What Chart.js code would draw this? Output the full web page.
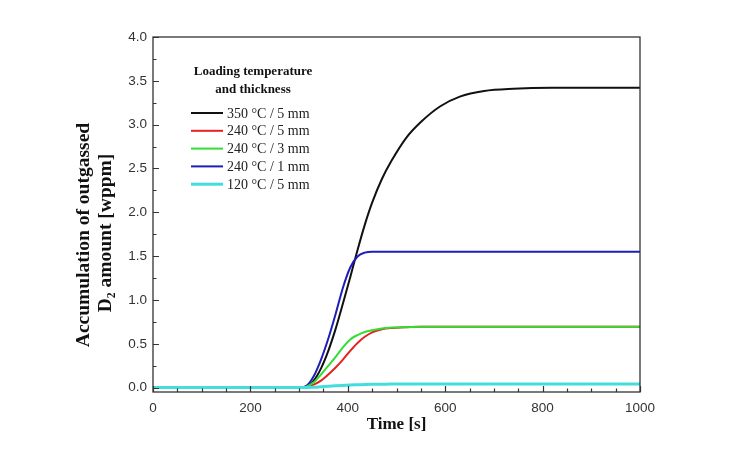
<!DOCTYPE html>
<html>
<head>
<meta charset="utf-8">
<script src="https://cdn.jsdelivr.net/npm/chart.js@4/dist/chart.umd.min.js"></script>
<style>
  body { margin: 0; background: #fff; }
  canvas { display: block; }
</style>
</head>
<body>
<canvas id="outgasChart" width="730" height="451"></canvas>
<script>
// time points [s] shared by every curve
const times = [0, 300, 315, 330, 345, 360, 375, 390, 405, 420, 435, 450, 470, 490, 520, 550, 590, 630, 680, 740, 820, 1000];

// accumulated D2 [wppm]
const t350mm5 = [0, 0, 0.01, 0.08, 0.22, 0.42, 0.67, 0.96, 1.26, 1.57, 1.86, 2.11, 2.38, 2.59, 2.85, 3.03, 3.21, 3.32, 3.385, 3.41, 3.42, 3.42];
const t240mm5 = [0, 0, 0.01, 0.035, 0.08, 0.15, 0.23, 0.32, 0.42, 0.51, 0.58, 0.63, 0.665, 0.68, 0.69, 0.695, 0.695, 0.695, 0.695, 0.695, 0.695, 0.695];
const t240mm3 = [0, 0, 0.01, 0.06, 0.15, 0.25, 0.35, 0.46, 0.55, 0.60, 0.635, 0.655, 0.675, 0.685, 0.69, 0.695, 0.695, 0.695, 0.695, 0.695, 0.695, 0.695];
const t240mm1 = [0, 0, 0.02, 0.13, 0.32, 0.56, 0.84, 1.14, 1.37, 1.495, 1.54, 1.55, 1.55, 1.55, 1.55, 1.55, 1.55, 1.55, 1.55, 1.55, 1.55, 1.55];
const t120mm5 = [0, 0, 0.002, 0.005, 0.01, 0.015, 0.02, 0.025, 0.03, 0.033, 0.036, 0.038, 0.039, 0.04, 0.04, 0.04, 0.04, 0.04, 0.04, 0.04, 0.04, 0.04];

const seriesLabels = ['350 \u00B0C / 5 mm', '240 \u00B0C / 5 mm', '240 \u00B0C / 3 mm', '240 \u00B0C / 1 mm', '120 \u00B0C / 5 mm'];
const seriesColors = ['#111111', '#e52222', '#33dd33', '#1e1eb8', '#44dddd'];
const seriesOrder = [4, 3, 1, 2, 0];

const xTicks = [0, 200, 400, 600, 800, 1000];
const yTicks = [0, 0.5, 1.0, 1.5, 2.0, 2.5, 3.0, 3.5, 4.0];

const allSeries = [t350mm5, t240mm5, t240mm3, t240mm1, t120mm5];

const serif = '"Liberation Serif", "Times New Roman", serif';
const sans = '"Liberation Sans", Arial, sans-serif';

// frame, inward ticks, axis titles and the inset legend
const decorPlugin = {
    id: 'decor',
    afterDatasetsDraw(chart) {
        const ctx = chart.ctx;
        const area = chart.chartArea;
        const xs = chart.scales.x;
        const ys = chart.scales.y;
        ctx.save();
        ctx.strokeStyle = '#333';
        ctx.lineWidth = 1.3;
        ctx.strokeRect(area.left, area.top, area.right - area.left, area.bottom - area.top);

        ctx.lineWidth = 1.2;
        ctx.beginPath();
        for (let v = 0; v <= 1000; v += 50) {
            const px = Math.round(xs.getPixelForValue(v)) + 0.5;
            const len = v % 200 === 0 ? 6 : 3.5;
            ctx.moveTo(px, area.bottom);
            ctx.lineTo(px, area.bottom - len);
        }
        for (let v = 0; v <= 4.0001; v += 0.25) {
            const py = Math.round(ys.getPixelForValue(v)) + 0.5;
            const len = Math.abs(v * 2 - Math.round(v * 2)) < 1e-6 ? 6 : 3.5;
            ctx.moveTo(area.left, py);
            ctx.lineTo(area.left + len, py);
        }
        ctx.stroke();

        // axis titles
        ctx.fillStyle = '#111';
        ctx.textAlign = 'center';
        ctx.textBaseline = 'middle';
        ctx.font = 'bold 17px ' + serif;
        ctx.fillText('Time [s]', (area.left + area.right) / 2, 425);

        ctx.font = 'bold 19.5px ' + serif;
        ctx.save();
        ctx.translate(84, 235);
        ctx.rotate(-Math.PI / 2);
        ctx.fillText('Accumulation of outgassed', 0, 0);
        ctx.restore();
        ctx.save();
        ctx.translate(106, 233);
        ctx.rotate(-Math.PI / 2);
        ctx.fillText('D\u2082 amount [wppm]', 0, 0);
        ctx.restore();

        // legend
        const lx = area.left + 100;
        ctx.font = 'bold 13px ' + serif;
        ctx.fillText('Loading temperature', lx, area.top + 35);
        ctx.fillText('and thickness', lx, area.top + 53);
        ctx.textAlign = 'left';
        ctx.font = '14px ' + serif;
        seriesLabels.forEach((lab, i) => {
            const y = area.top + 76 + i * 17.8;
            ctx.strokeStyle = seriesColors[i];
            ctx.lineWidth = i === 4 ? 3 : 2;
            ctx.beginPath();
            ctx.moveTo(area.left + 38, y);
            ctx.lineTo(area.left + 70, y);
            ctx.stroke();
            ctx.fillStyle = '#222';
            ctx.fillText(lab, area.left + 74, y + 1);
        });
        ctx.restore();
    }
};

const datasets = allSeries.map((vals, i) => ({
    label: seriesLabels[i],
    data: vals.map((v, j) => ({ x: times[j], y: v })),
    borderColor: seriesColors[i],
    borderWidth: i === 4 ? 3 : 2,
    pointRadius: 0,
    cubicInterpolationMode: 'monotone',
    order: seriesOrder[i]
}));

new Chart(document.getElementById('outgasChart').getContext('2d'), {
    type: 'line',
    data: { datasets: datasets },
    options: {
        responsive: false,
        animation: false,
        devicePixelRatio: 1,
        layout: { padding: { left: 0, top: 37, right: 90, bottom: 0 } },
        plugins: {
            legend: { display: false },
            tooltip: { enabled: false }
        },
        scales: {
            x: {
                type: 'linear',
                min: 0,
                max: 1000,
                grid: { display: false, drawTicks: false },
                border: { display: false },
                afterBuildTicks: scale => { scale.ticks = xTicks.map(v => ({ value: v })); },
                afterFit: scale => { scale.height = 59; },
                ticks: {
                    padding: 8,
                    color: '#333',
                    font: { family: sans, size: 13.5 },
                    maxRotation: 0,
                    autoSkip: false,
                    callback: v => String(v)
                }
            },
            y: {
                type: 'linear',
                min: -0.05,
                max: 4.0,
                grid: { display: false, drawTicks: false },
                border: { display: false },
                afterBuildTicks: scale => { scale.ticks = yTicks.map(v => ({ value: v })); },
                afterFit: scale => { scale.width = 153; },
                ticks: {
                    padding: 6,
                    color: '#333',
                    font: { family: sans, size: 13.5 },
                    callback: v => v.toFixed(1)
                }
            }
        }
    },
    plugins: [decorPlugin]
});
</script>
</body>
</html>
